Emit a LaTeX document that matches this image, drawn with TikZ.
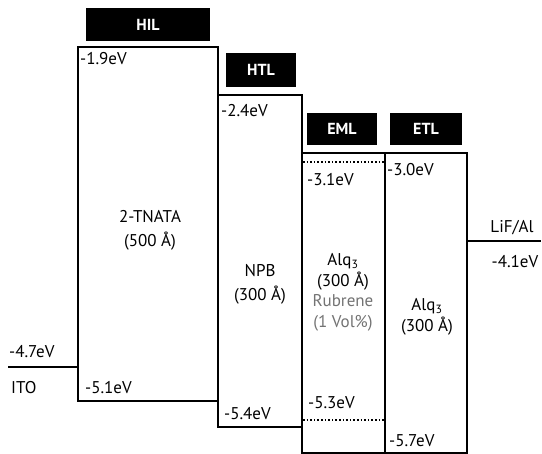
\documentclass[tikz,border=0pt]{standalone}
\usepackage{fontspec}
\setmainfont{PT Sans}
\begin{document}
\begin{tikzpicture}[x=1pt,y=-1pt,
  levelbox/.style={draw=black,line width=2pt,fill=white,inner sep=0pt},
  tagbox/.style={fill=black,text=white,font=\fontsize{16}{16}\selectfont\bfseries,inner sep=0pt},
  lvl/.style={font=\fontsize{17}{17}\selectfont,inner sep=0pt,anchor=west},
  body/.style={font=\fontsize{17}{24}\selectfont,align=center,inner sep=0pt},
  bodyt/.style={font=\fontsize{17}{20.5}\selectfont,align=center,inner sep=0pt},
  conn/.style={line width=2pt},
  dots/.style={line width=1.6pt,dotted}]
\useasboundingbox (0,0) rectangle (542,454);
% boxes
\node[levelbox,minimum width=140pt,minimum height=354pt] (hil) at (148,224) {};
\node[levelbox,minimum width=84pt,minimum height=332pt] (htl) at (260,261) {};
\node[levelbox,minimum width=83pt,minimum height=300pt] (eml) at (343.5,303) {};
\node[levelbox,minimum width=82pt,minimum height=300pt] (etl) at (426,303) {};
% tags
\node[tagbox,minimum width=124pt,minimum height=33pt] (hiltag) at (148,24.5) {HIL};
\node[tagbox,minimum width=70pt,minimum height=34pt] (htltag) at (261,70) {HTL};
\node[tagbox,minimum width=70pt,minimum height=32pt] (emltag) at (342,129) {EML};
\node[tagbox,minimum width=72pt,minimum height=32pt] (etltag) at (426,129) {ETL};
% electrodes
\coordinate (itoL) at (8,367);
\coordinate (lifR) at (541,241);
\draw[conn] (itoL) -- (hil.west |- itoL);
\draw[conn] (etl.east |- lifR) -- (lifR);
% dotted levels in EML
\coordinate (lumo) at (0,162);
\coordinate (homo) at (0,420);
\draw[dots] ([xshift=2pt]eml.west |- lumo) -- ([xshift=-2pt]eml.east |- lumo);
\draw[dots] ([xshift=2pt]eml.west |- homo) -- ([xshift=-2pt]eml.east |- homo);
% level labels
\node[lvl] (l19) at (80,59) {-1.9eV};
\node[lvl] (l24) at (221,111) {-2.4eV};
\node[lvl] (l31) at (307,180) {-3.1eV};
\node[lvl] (l30) at (387,170) {-3.0eV};
\node[lvl] (l47) at (9,352) {-4.7eV};
\node[lvl] (ito) at (11,388) {ITO};
\node[lvl] (l51) at (85,388) {-5.1eV};
\node[lvl] (l54) at (224,414) {-5.4eV};
\node[lvl] (l53) at (308,403) {-5.3eV};
\node[lvl] (l57) at (389,441) {-5.7eV};
\node[font=\fontsize{17}{17}\selectfont,inner sep=0pt] (lif) at (512,228) {LiF/Al};
\node[font=\fontsize{17}{17}\selectfont,inner sep=0pt] (l41) at (515,262) {-4.1eV};
% body texts
\node[body] (tnata) at (150,230) {2-TNATA\\(500 Å)};
\node[body] (npb) at (260,284) {NPB\\(300 Å)};
\node[bodyt] (alqe) at (343,272) {Alq\textsubscript{3}\\(300 Å)};
\node[bodyt,text=black!55] (rub) at (343,313) {Rubrene\\(1 Vol\%)};
\node[bodyt] (alqt) at (427,317) {Alq\textsubscript{3}\\(300 Å)};
\end{tikzpicture}
\end{document}
